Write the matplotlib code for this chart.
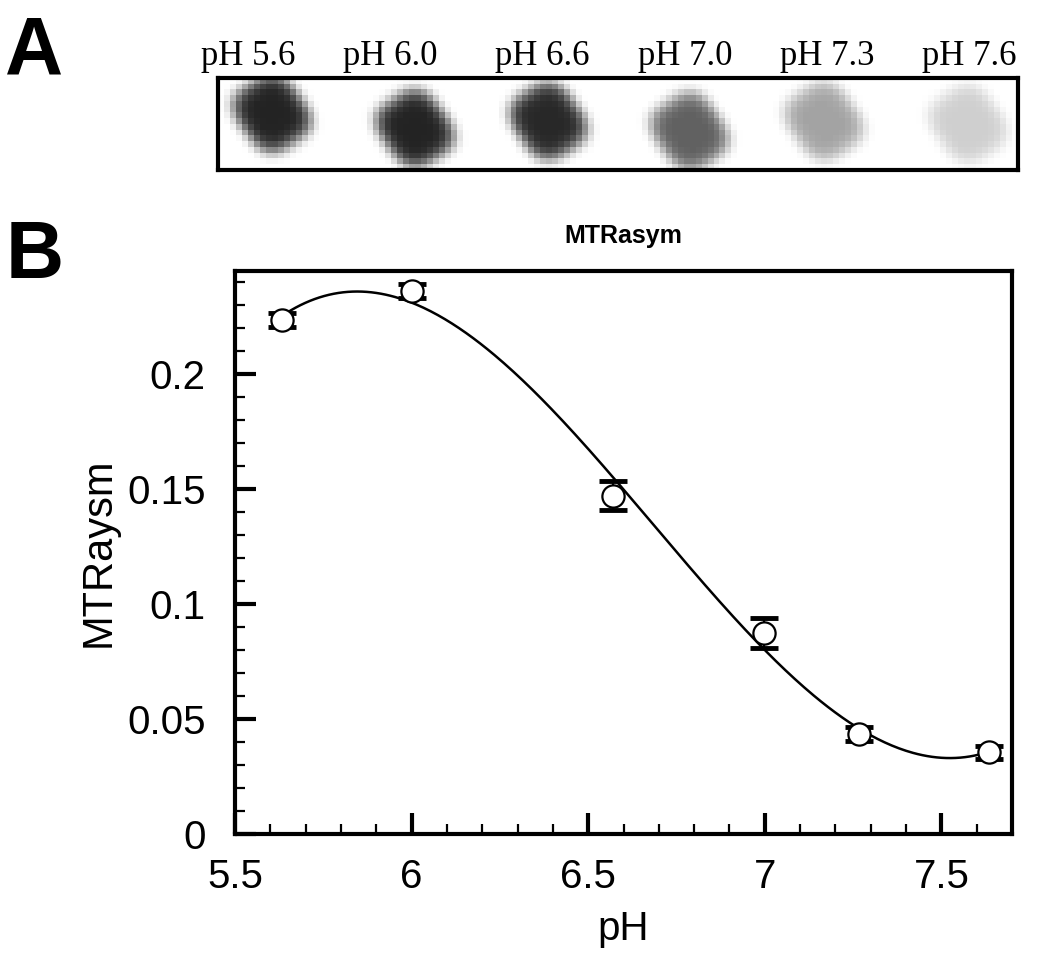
import numpy as np
import matplotlib
matplotlib.use('Agg')
from matplotlib import pyplot as plt
from matplotlib.ticker import MultipleLocator

plt.rcParams['font.family'] = ['Liberation Sans', 'DejaVu Sans']

# panel A: spot labels and darkness (0 = white, 1 = black)
spot_labels = ['pH 5.6', 'pH 6.0', 'pH 6.6', 'pH 7.0', 'pH 7.3', 'pH 7.6']
spot_darkness = [0.86, 0.86, 0.84, 0.62, 0.36, 0.19]
spot_x = [54, 198, 332, 474, 609, 754]     # centres in box pixels
spot_y = [37, 53, 45, 56, 45, 48]
label_x = [30, 172, 324, 467, 609, 751]

# panel B: MTRasym vs pH
ph = [5.632, 6.0, 6.571, 6.997, 7.268, 7.634]
mtr = [0.2236, 0.2362, 0.1473, 0.0876, 0.0436, 0.0355]
mtr_err = [0.003, 0.003, 0.0062, 0.0065, 0.003, 0.003]

fig = plt.figure(figsize=(10.5, 9.67), dpi=100)

# ---- panel A ----
axa = fig.add_axes([218 / 1050, 1 - 170 / 967, 800 / 1050, 92 / 967])
W, H, cell = 800, 92, 6
gx = np.arange(0, W, cell) + cell / 2
gy = np.arange(0, H, cell) + cell / 2
X, Y = np.meshgrid(gx, gy)
img = np.zeros_like(X, dtype=float)
ang = np.deg2rad(35)
for cx, cy, d in zip(spot_x, spot_y, spot_darkness):
    dx, dy = X - cx, Y - cy
    u = dx * np.cos(ang) - dy * np.sin(ang)
    v = dx * np.sin(ang) + dy * np.cos(ang)
    r = (np.abs(u / 34) ** 3 + np.abs(v / 39) ** 3) ** (1 / 3)
    img += d * np.exp(-r ** 6)
axa.imshow(1 - np.clip(img, 0, 1), cmap='gray', vmin=0, vmax=1,
           extent=[0, W, H, 0], interpolation='nearest', aspect='auto')
axa.set_xlim(0, W)
axa.set_ylim(H, 0)
axa.set_xticks([])
axa.set_yticks([])
for s in axa.spines.values():
    s.set_linewidth(3)
for lab, cx in zip(spot_labels, label_x):
    axa.text(cx, -13, lab, ha='center', va='baseline', fontsize=25,
             family='Liberation Serif')

fig.text(0.005, 1 - 73 / 967, 'A', fontsize=58, fontweight='bold', va='baseline')
fig.text(0.005, 1 - 278 / 967, 'B', fontsize=58, fontweight='bold', va='baseline')

# ---- panel B ----
ax = fig.add_axes([235 / 1050, 1 - 834 / 967, 777 / 1050, 563 / 967])
coef = np.polyfit(ph, mtr, 3)
xs = np.linspace(min(ph), max(ph), 300)
ax.plot(xs, np.polyval(coef, xs), color='black', lw=1.8, zorder=2)
ax.errorbar(ph, mtr, yerr=mtr_err, fmt='none', ecolor='black',
            elinewidth=1.5, capsize=10, capthick=3.5, zorder=3)
ax.plot(ph, mtr, 'o', ms=16, mfc='white', mec='black', mew=1.6, zorder=4)

ax.set_xlim(5.5, 7.7)
ax.set_ylim(0, 0.245)
ax.xaxis.set_minor_locator(MultipleLocator(0.1))
ax.yaxis.set_minor_locator(MultipleLocator(0.01))
ax.set_xticks([5.5, 6, 6.5, 7, 7.5])
ax.set_xticklabels(['5.5', '6', '6.5', '7', '7.5'])
ax.set_yticks([0, 0.05, 0.1, 0.15, 0.2])
ax.set_yticklabels(['0', '0.05', '0.1', '0.15', '0.2'])
ax.tick_params(which='major', direction='in', length=15, width=3,
               labelsize=29)
ax.tick_params(which='minor', direction='in', length=7, width=1.6)
ax.tick_params(axis='x', which='major', pad=17)
ax.tick_params(axis='y', which='major', pad=21)
for s in ax.spines.values():
    s.set_linewidth(3)
ax.set_xlabel('pH', fontsize=29, labelpad=10)
ax.set_ylabel('MTRaysm', fontsize=30, labelpad=6)
ax.set_title('MTRasym', fontsize=18, fontweight='bold', pad=20)

fig.savefig('out.png', dpi=100)
